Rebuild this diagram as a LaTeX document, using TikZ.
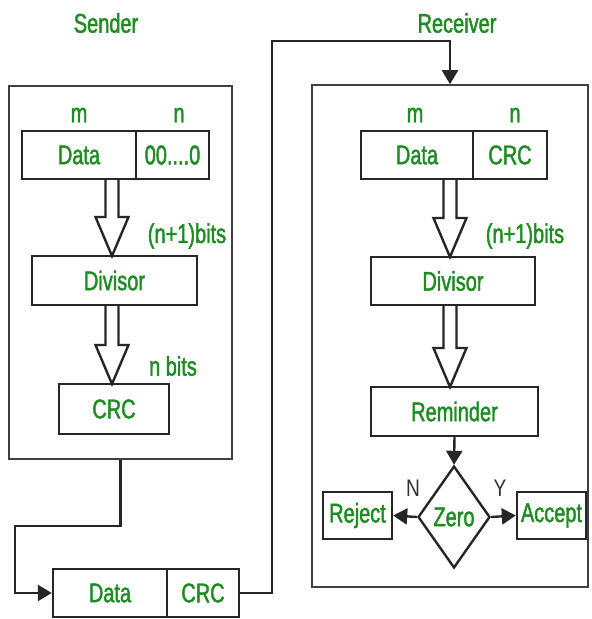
\documentclass[tikz,border=0pt]{standalone}
\usepackage{fontspec}
\setmainfont{Liberation Sans}[FakeStretch=0.74,FakeBold=1.6]
\newfontfamily\thinlab{Liberation Sans}[FakeStretch=0.8]
\usetikzlibrary{shapes.geometric,arrows.meta,calc}
\definecolor{txtgreen}{RGB}{30,140,35}
\definecolor{lab}{RGB}{50,50,50}
\tikzset{
  txt/.style={text=txtgreen,font=\fontsize{27}{30}\selectfont,inner sep=0pt},
  blk/.style={draw=black!85,line width=2.4pt,rectangle,inner sep=0pt,text=txtgreen,font=\fontsize{27}{30}\selectfont},
  outer/.style={draw=black!75,line width=1.6pt,rectangle,inner sep=0pt},
  flow/.style={draw=black!85,line width=2.4pt,-{Triangle[length=14pt,width=16pt]}},
  hollow/.style={draw=black!85,line width=2.4pt,fill=white,line join=miter},
  yn/.style={text=lab,font=\thinlab\fontsize{24}{26}\selectfont,inner sep=0pt}
}
\newcommand\hollowarr[2]{%
  \draw[hollow] let \p1=(#1), \p2=(#2) in
    (\x2-6.5pt,\y1) -- (\x2-6.5pt,\y2+39pt) -- (\x2-16.5pt,\y2+39pt) -- (\x2,\y2)
    -- (\x2+16.5pt,\y2+39pt) -- (\x2+6.5pt,\y2+39pt) -- (\x2+6.5pt,\y1);}
\begin{document}
\begin{tikzpicture}[x=1pt,y=-1pt]
\useasboundingbox (0,0) rectangle (592,619);
% titles
\node[txt] (stitle) at (106,23) {Sender};
\node[txt] (rtitle) at (457,23) {Receiver};
% outer boxes
\node[outer,minimum width=223pt,minimum height=373pt] (sender) at (120.5,272.5) {};
\node[outer,minimum width=276pt,minimum height=502pt] (receiver) at (450,336) {};
% sender
\node[txt] (sm) at (79,115) {m};
\node[txt] (sn) at (179,115) {n};
\node[blk,minimum width=114pt,minimum height=48pt] (sdata) at (79,155) {Data};
\node[blk,minimum width=73pt,minimum height=48pt] (szero) at (172.5,155) {00....0};
\node[blk,minimum width=165pt,minimum height=49pt] (sdiv) at (114.5,280.5) {Divisor};
\node[blk,minimum width=110pt,minimum height=50pt] (scrc) at (114,409) {CRC};
\node[txt] (sbits1) at (187,236) {(n+1)bits};
\node[txt] (sbits2) at (173,366) {n bits};
\coordinate (sa1) at (112,256);
\coordinate (sa2) at (112,384);
\hollowarr{sdata.south}{sa1}
\hollowarr{sdiv.south}{sa2}
% transmitted frame
\node[blk,minimum width=114pt,minimum height=48pt] (bdata) at (110,593) {Data};
\node[blk,minimum width=72pt,minimum height=48pt] (bcrc) at (203,593) {CRC};
\coordinate (c1) at (15,526);
\coordinate (c2) at (272,41);
\draw[flow] (sender.south) |- (c1) |- (bdata.west);
\draw[flow] (bcrc.east) -| (c2) -| (receiver.north);
% receiver
\node[txt] (rm) at (415,115) {m};
\node[txt] (rn) at (515,115) {n};
\node[blk,minimum width=112pt,minimum height=48pt] (rdata) at (417,155) {Data};
\node[blk,minimum width=74pt,minimum height=48pt] (rcrc) at (510,155) {CRC};
\node[blk,minimum width=164pt,minimum height=48pt] (rdiv) at (453,281) {Divisor};
\node[txt] (rbits) at (525,236) {(n+1)bits};
\node[blk,minimum width=167pt,minimum height=49pt] (rrem) at (454.5,411.5) {Reminder};
\coordinate (ra1) at (450,257);
\coordinate (ra2) at (450,387);
\hollowarr{rdata.south}{ra1}
\hollowarr{rdiv.south}{ra2}
\node[blk,diamond,aspect=0.7,minimum width=72pt,minimum height=102pt] (zero) at (454,517) {Zero};
\node[blk,minimum width=69pt,minimum height=47pt] (reject) at (357.5,515.5) {Reject};
\node[blk,minimum width=69pt,minimum height=47pt] (accept) at (551.5,515.5) {Accept};
\draw[flow] (rrem.south) -- (zero.north);
\draw[flow] (zero.west) -- (reject.east);
\draw[flow] (zero.east) -- (accept.west);
\node[yn] (nlab) at (413,488) {N};
\node[yn] (ylab) at (500,488) {Y};
\end{tikzpicture}
\end{document}
